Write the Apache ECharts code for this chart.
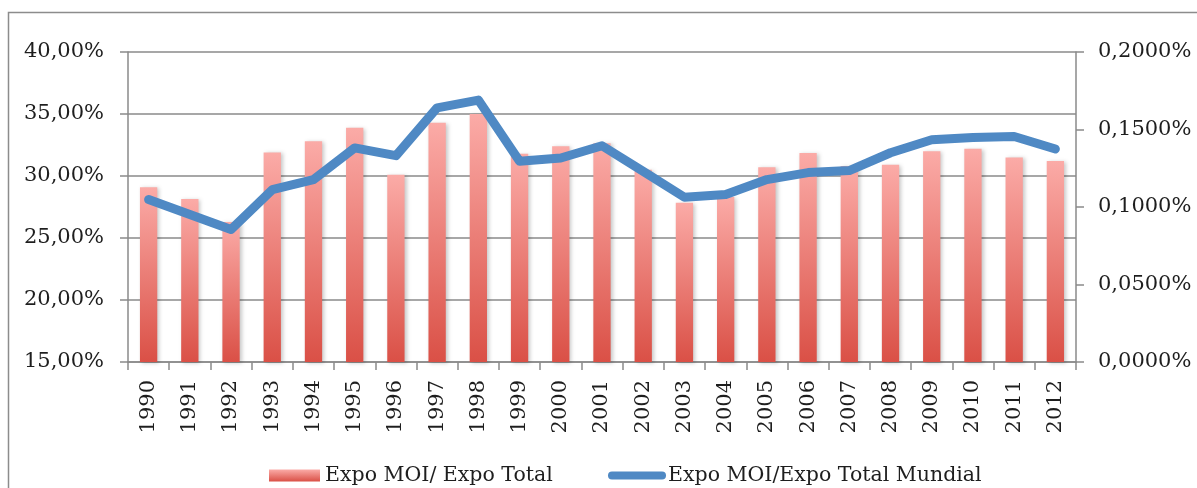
<!DOCTYPE html>
<html>
<head>
<meta charset="utf-8">
<script src="https://cdn.jsdelivr.net/npm/echarts@6/dist/echarts.min.js"></script>
<style>
html,body{margin:0;padding:0;background:#fff;}
#c{width:1197px;height:488px;}
</style>
</head>
<body>
<div id="c"></div>
<script>
const years = ['1990','1991','1992','1993','1994','1995','1996','1997','1998','1999','2000','2001','2002','2003','2004','2005','2006','2007','2008','2009','2010','2011','2012'];
const expoMoiTotal = [29.1, 28.15, 26.3, 31.9, 32.8, 33.9, 30.1, 34.3, 35.0, 31.8, 32.4, 32.65, 30.5, 27.85, 28.3, 30.7, 31.85, 30.8, 30.9, 32.0, 32.2, 31.5, 31.2];
const expoMoiMundial = [0.1048, 0.0952, 0.0855, 0.1112, 0.1177, 0.1381, 0.1331, 0.1640, 0.1690, 0.1295, 0.1316, 0.1395, 0.1230, 0.1063, 0.1080, 0.1177, 0.1222, 0.1235, 0.1350, 0.1434, 0.1449, 0.1455, 0.1374];
const leftTicks = {min: 15, max: 40, interval: 5};
const rightTicks = {min: 0, max: 0.2, interval: 0.05};
const seriesNames = ['Expo MOI/ Expo Total', 'Expo MOI/Expo Total Mundial'];

const FONT = 'DejaVu Serif';
const TXT = '#1e1e1e';
const GRID = '#8a8a8a';
const BLUE = '#4f89c4';

const chart = echarts.init(document.getElementById('c'), null, {renderer: 'canvas'});
chart.setOption({
  backgroundColor: '#fff',
  animation: false,
  graphic: [{
    type: 'rect',
    shape: {x: 8.5, y: 12.5, width: 1300, height: 600},
    style: {fill: 'none', stroke: '#8c8c8c', lineWidth: 1.5},
    silent: true,
    z: -1
  }],
  grid: {left: 128, right: 121, top: 52, bottom: 126},
  legend: [{
    left: 264, top: 460,
    itemWidth: 51, itemHeight: 12,
    itemGap: 0,
    textStyle: {fontFamily: FONT, fontSize: 20.5, color: TXT},
    data: [{name: seriesNames[0], icon: 'rect'}]
  }, {
    left: 603, top: 460,
    itemWidth: 58, itemHeight: 8,
    itemGap: 0,
    textStyle: {fontFamily: FONT, fontSize: 20.5, color: TXT, padding: [0, 0, 0, -3]},
    data: [{
      name: seriesNames[1],
      icon: 'path://M4,0 L54,0 A4,4 0 0 1 54,8 L4,8 A4,4 0 0 1 4,0 Z',
      itemStyle: {color: BLUE}
    }]
  }],
  xAxis: {
    type: 'category',
    data: years,
    boundaryGap: true,
    axisLine: {lineStyle: {color: GRID, width: 1.5}},
    axisTick: {show: true, length: 8, lineStyle: {color: GRID, width: 1.5}},
    axisLabel: {rotate: 90, margin: 18, fontFamily: FONT, fontSize: 21, color: TXT, interval: 0}
  },
  yAxis: [{
    type: 'value',
    min: leftTicks.min, max: leftTicks.max, interval: leftTicks.interval,
    axisLine: {show: true, lineStyle: {color: GRID, width: 1.5}},
    axisTick: {show: true, length: 8, lineStyle: {color: GRID, width: 1.5}},
    splitLine: {show: true, lineStyle: {color: GRID, width: 1.5}},
    axisLabel: {margin: 24, fontFamily: FONT, fontSize: 21, color: TXT,
      formatter: v => v.toFixed(2).replace('.', ',') + '%'}
  }, {
    type: 'value',
    position: 'right',
    min: rightTicks.min, max: rightTicks.max, interval: rightTicks.interval,
    axisLine: {show: true, lineStyle: {color: GRID, width: 1.5}},
    axisTick: {show: true, length: 8, lineStyle: {color: GRID, width: 1.5}},
    splitLine: {show: false},
    axisLabel: {margin: 22, fontFamily: FONT, fontSize: 21, color: TXT,
      formatter: v => v.toFixed(4).replace('.', ',') + '%'}
  }],
  series: [{
    name: seriesNames[0],
    type: 'bar',
    yAxisIndex: 0,
    data: expoMoiTotal,
    barWidth: '42%',
    itemStyle: {
      color: new echarts.graphic.LinearGradient(0, 0, 0, 1, [
        {offset: 0, color: '#fbaba7'},
        {offset: 1, color: '#da5046'}
      ]),
      shadowColor: 'rgba(0,0,0,0.22)', shadowBlur: 4, shadowOffsetX: 2, shadowOffsetY: 1
    }
  }, {
    name: seriesNames[1],
    type: 'line',
    yAxisIndex: 1,
    data: expoMoiMundial,
    showSymbol: false,
    symbol: 'none',
    lineStyle: {color: BLUE, width: 9, cap: 'round', join: 'round'},
    itemStyle: {color: BLUE},
    z: 5
  }]
});
</script>
</body>
</html>
